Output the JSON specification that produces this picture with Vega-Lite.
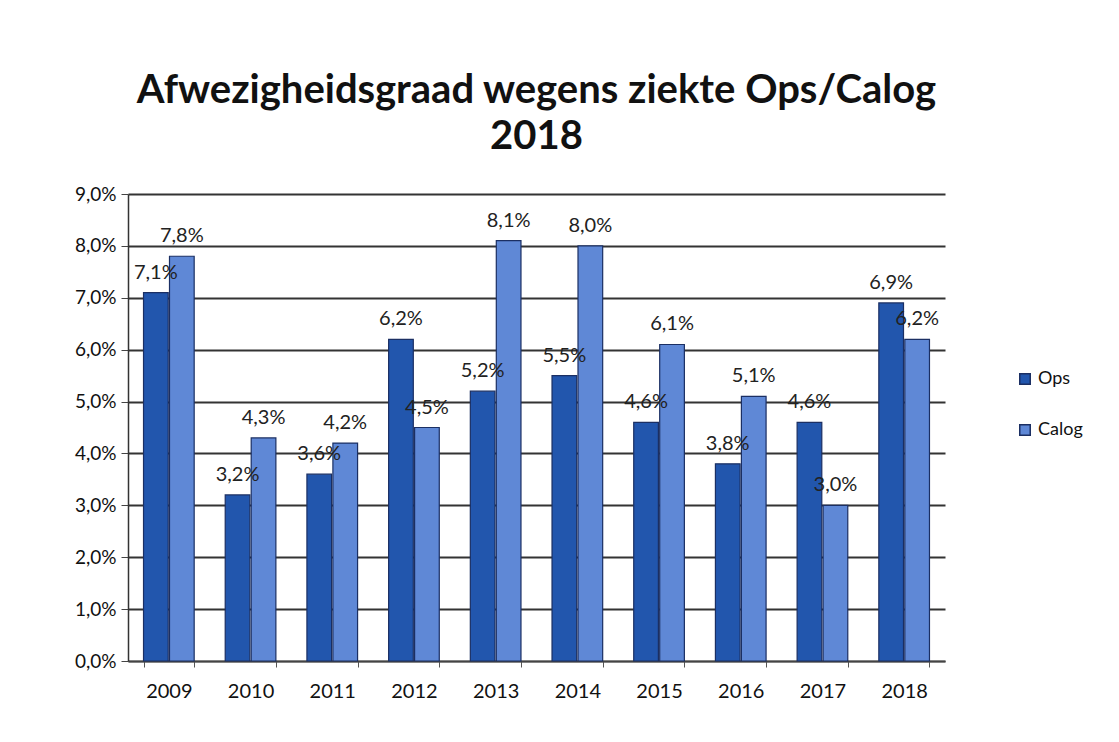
{
  "$schema": "https://vega.github.io/schema/vega-lite/v6.json",
  "width": 817,
  "height": 467,
  "autosize": {"type": "none"},
  "padding": {"left": 128, "top": 194, "right": 174, "bottom": 81},
  "background": "white",
  "config": {
    "locale": {"number": {"decimal": ",", "thousands": ".", "grouping": [3], "currency": ["€", ""]}},
    "font": "Lato",
    "view": {"stroke": null}
  },
  "title": {
    "text": ["Afwezigheidsgraad wegens ziekte Ops/Calog", "2018"],
    "font": "Lato",
    "fontSize": 40,
    "fontWeight": "bold",
    "color": "#111111",
    "anchor": "middle",
    "offset": 28,
    "lineHeight": 46
  },
  "data": {
    "values": [
      {"jaar": "2009", "groep": "Ops", "waarde": 0.071},
      {"jaar": "2009", "groep": "Calog", "waarde": 0.078},
      {"jaar": "2010", "groep": "Ops", "waarde": 0.032},
      {"jaar": "2010", "groep": "Calog", "waarde": 0.043},
      {"jaar": "2011", "groep": "Ops", "waarde": 0.036},
      {"jaar": "2011", "groep": "Calog", "waarde": 0.042},
      {"jaar": "2012", "groep": "Ops", "waarde": 0.062},
      {"jaar": "2012", "groep": "Calog", "waarde": 0.045},
      {"jaar": "2013", "groep": "Ops", "waarde": 0.052},
      {"jaar": "2013", "groep": "Calog", "waarde": 0.081},
      {"jaar": "2014", "groep": "Ops", "waarde": 0.055},
      {"jaar": "2014", "groep": "Calog", "waarde": 0.080},
      {"jaar": "2015", "groep": "Ops", "waarde": 0.046},
      {"jaar": "2015", "groep": "Calog", "waarde": 0.061},
      {"jaar": "2016", "groep": "Ops", "waarde": 0.038},
      {"jaar": "2016", "groep": "Calog", "waarde": 0.051},
      {"jaar": "2017", "groep": "Ops", "waarde": 0.046},
      {"jaar": "2017", "groep": "Calog", "waarde": 0.030},
      {"jaar": "2018", "groep": "Ops", "waarde": 0.069},
      {"jaar": "2018", "groep": "Calog", "waarde": 0.062}
    ]
  },
  "encoding": {
    "x": {
      "field": "jaar",
      "type": "nominal",
      "title": null,
      "scale": {"paddingInner": 0.38, "paddingOuter": 0.19},
      "axis": {
        "labelAngle": 0,
        "labelFontSize": 20,
        "labelColor": "#111111",
        "labelPadding": 14,
        "tickBand": "extent",
        "ticks": true,
        "tickColor": "#555555",
        "tickSize": 6,
        "domainColor": "#444444",
        "domainWidth": 1.5,
        "grid": false
      }
    },
    "xOffset": {"field": "groep", "type": "nominal", "sort": ["Ops", "Calog"], "scale": {"paddingInner": 0.05}},
    "y": {
      "field": "waarde",
      "type": "quantitative",
      "title": null,
      "scale": {"domain": [0, 0.09]},
      "axis": {
        "values": [0, 0.01, 0.02, 0.03, 0.04, 0.05, 0.06, 0.07, 0.08, 0.09],
        "format": ".1%",
        "labelFontSize": 19,
        "labelColor": "#111111",
        "labelPadding": 5,
        "tickColor": "#444444",
        "tickSize": 7,
        "domainColor": "#333333",
        "domainWidth": 1.5,
        "gridColor": "#333333",
        "gridWidth": 2
      }
    }
  },
  "layer": [
    {
      "mark": {"type": "bar", "stroke": "#1b2f63", "strokeWidth": 1.2},
      "encoding": {
        "color": {
          "field": "groep",
          "type": "nominal",
          "sort": ["Ops", "Calog"],
          "scale": {"domain": ["Ops", "Calog"], "range": ["#2256ad", "#5f88d6"]},
          "legend": {
            "title": null,
            "orient": "none",
            "legendX": 888,
            "legendY": 176,
            "symbolType": "square",
            "symbolSize": 110,
            "symbolStrokeColor": "#1b2f63",
            "labelFontSize": 18,
            "labelColor": "#111111",
            "rowPadding": 33,
            "labelOffset": 4
          }
        }
      }
    },
    {
      "mark": {"type": "text", "baseline": "bottom", "dy": -10, "fontSize": 20, "color": "#222222"},
      "encoding": {
        "text": {"field": "waarde", "type": "quantitative", "format": ".1%"}
      }
    }
  ]
}
